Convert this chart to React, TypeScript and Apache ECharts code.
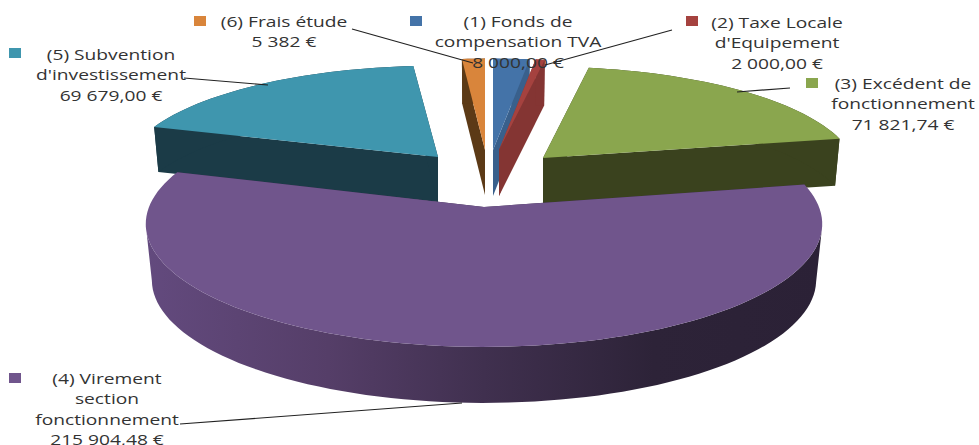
import React, { useEffect, useRef } from "react";
import * as echarts from "echarts";

const sliceNames = [
  "(1) Fonds de\ncompensation TVA",
  "(2) Taxe Locale\nd'Equipement",
  "(3) Excédent de\nfonctionnement",
  "(4) Virement\nsection\nfonctionnement",
  "(5) Subvention\nd'investissement",
  "(6) Frais étude",
];
const sliceValues = [8000, 2000, 71821.74, 215904.48, 69679, 5382];
const valueLabels = ["8 000,00 €", "2 000,00 €", "71 821,74 €", "215 904,48 €", "69 679,00 €", "5 382 €"];

const topColors = ["#4473a8", "#a5423f", "#8aa64e", "#70558c", "#3f96ae", "#d9853b"];
const sideColors = ["#39608c", "#843533", "#3a421e", "#3a2b4a", "#1b3b47", "#5c3a16"];

// Exploded position of each slice's apex on the page, and its size
const apexX = [493, 499, 543, 484, 438, 485];
const apexY = [150, 150, 158, 207, 157, 150];
const radiusX = [310, 310, 310, 335, 310, 290];
const radiusY = [104, 104, 104, 120.6, 104, 104];
const sliceDepth = [46, 46, 47, 56, 45, 45];
const shrink = [0.985, 0.985, 0.985, 0.982, 0.985, 0.985];
const drawOrder = [4, 5, 0, 1, 2, 3];

const perspective = 0.138;

// Label layout: centre x, first line y, key x, key y, leader line
const labelX = [518, 777, 903, 107, 111, 284];
const labelY = [21, 22, 83, 378, 54, 21];
const keyX = [410, 686, 806, 9, 9, 194];
const keyY = [16, 16, 78, 373, 48, 16];
const leaders = [
  null,
  [[672, 30], [545, 65]],
  [[737, 92], [790, 88]],
  [[180, 424], [462, 403]],
  [[184, 78], [268, 85]],
  [[352, 29], [473, 63]],
];

const total = sliceValues.reduce((a, b) => a + b, 0);
const startAngles: number[] = [];
sliceValues.reduce((acc, v, i) => {
  startAngles[i] = acc;
  return acc + (v / total) * Math.PI * 2;
}, 0);

function rim(i: number, theta: number) {
  const X = Math.sin(theta);
  const Z = Math.cos(theta);
  const s = 1 / (1 + perspective * Z);
  return [apexX[i] + radiusX[i] * X * s, apexY[i] - radiusY[i] * Z * s];
}
function below(i: number, p: number[]) {
  return [apexX[i] + (p[0] - apexX[i]) * shrink[i], p[1] + sliceDepth[i]];
}

// The outer wall runs only between the rim's left and right extremes, when the slice has both
function visibleWall(points: number[][]) {
  const xs = points.map((p) => p[0]);
  const iMax = xs.indexOf(Math.max(...xs));
  const iMin = xs.indexOf(Math.min(...xs));
  const last = points.length - 1;
  if (iMax > 0 && iMax < last && iMin > 0 && iMin < last) {
    return points.slice(Math.min(iMax, iMin), Math.max(iMax, iMin) + 1);
  }
  return points;
}

function renderSlice(_params: any, api: any) {
  const i = api.value(0);
  const a0 = startAngles[i];
  const a1 = a0 + (sliceValues[i] / total) * Math.PI * 2;
  const steps = Math.max(4, Math.ceil(((a1 - a0) * 180) / Math.PI / 2));
  const outerTop: number[][] = [];
  for (let k = 0; k <= steps; k++) outerTop.push(rim(i, a0 + ((a1 - a0) * k) / steps));
  const apex = [apexX[i], apexY[i]];
  const apexLow = [apexX[i], apexY[i] + sliceDepth[i]];
  const wallTop = visibleWall(outerTop);
  const wallLow = wallTop.map((p) => below(i, p)).reverse();
  const first = outerTop[0];
  const last = outerTop[outerTop.length - 1];
  const sideFill =
    i === 3
      ? new echarts.graphic.LinearGradient(0, 0, 1, 0, [
          { offset: 0, color: "#634a7e" },
          { offset: 0.27, color: "#553e68" },
          { offset: 0.5, color: "#40304f" },
          { offset: 0.75, color: "#2d2338" },
          { offset: 1, color: "#2b2136" },
        ])
      : sideColors[i];
  const poly = (points: number[][], fill: any) => ({
    type: "polygon",
    shape: { points },
    style: { fill, stroke: null },
    silent: true,
  });
  return {
    type: "group",
    children: [
      poly([apex, first, below(i, first), apexLow], sideColors[i]),
      poly([apex, last, below(i, last), apexLow], sideColors[i]),
      poly([...wallTop, ...wallLow], sideFill),
      poly([apex, ...outerTop], topColors[i]),
    ],
  };
}

export default function App() {
  const ref = useRef<HTMLDivElement>(null);
  useEffect(() => {
    document.body.style.margin = "0";
    const chart = echarts.init(ref.current!, null, { renderer: "svg" });
    const texts: any[] = sliceNames.map((n, i) => ({
      type: "text",
      x: labelX[i],
      y: labelY[i] - 10,
      scaleX: 1.28,
      z: 100,
      silent: true,
      style: {
        text: n + "\n" + valueLabels[i],
        fill: "#333333",
        font: '15px "Open Sans"',
        align: "center",
        verticalAlign: "top",
        lineHeight: 20.4,
      },
    }));
    const keys: any[] = topColors.map((c, i) => ({
      type: "rect",
      z: 100,
      silent: true,
      shape: { x: keyX[i], y: keyY[i], width: 12, height: 10 },
      style: { fill: c },
    }));
    const lines: any[] = leaders
      .filter((l) => l)
      .map((l: any) => ({
        type: "line",
        z: 101,
        silent: true,
        shape: { x1: l[0][0], y1: l[0][1], x2: l[1][0], y2: l[1][1] },
        style: { stroke: "#222222", lineWidth: 1.2 },
      }));
    chart.setOption({
      animation: false,
      backgroundColor: "#ffffff",
      graphic: { elements: [...lines, ...keys, ...texts] },
      series: [
        {
          type: "custom",
          coordinateSystem: "none",
          silent: true,
          renderItem: renderSlice,
          data: drawOrder.map((i) => [i]),
        },
      ],
    });
    return () => chart.dispose();
  }, []);
  return <div ref={ref} style={{ position: "fixed", left: 0, top: 0, width: 979, height: 445 }} />;
}
